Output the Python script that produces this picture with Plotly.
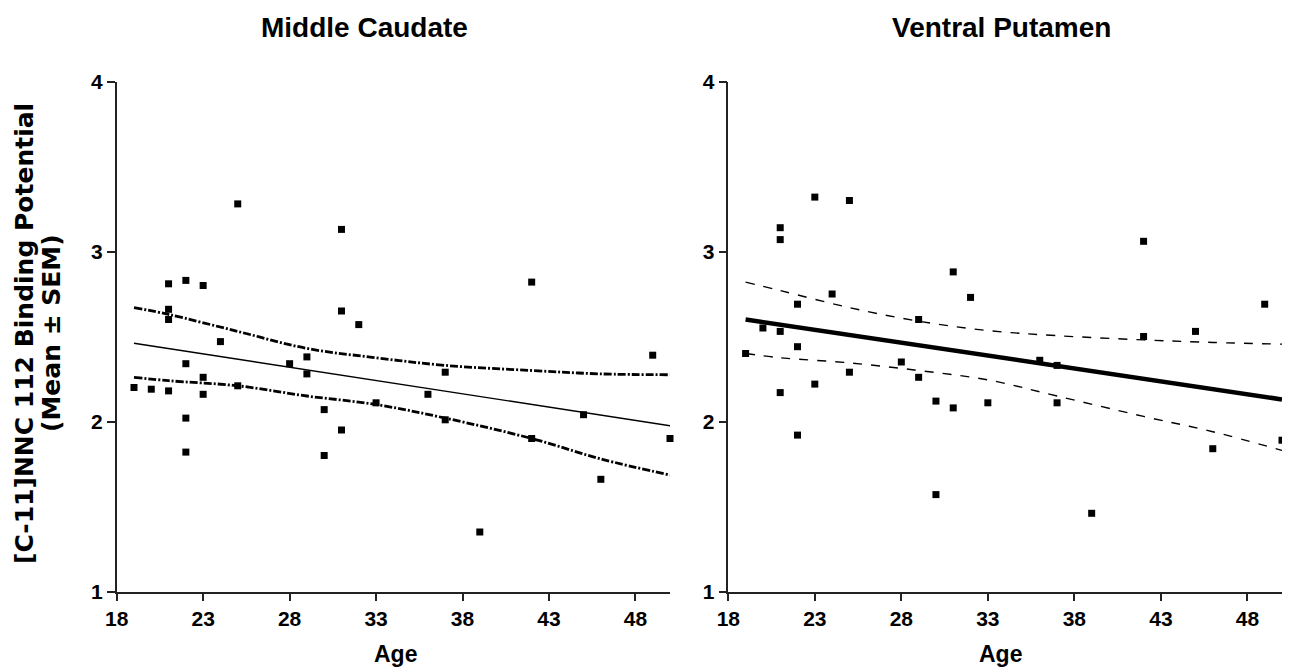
import plotly.graph_objects as go

# ---------------- data ----------------
mc_age = [19, 20, 21, 21, 21, 21, 22, 22, 22, 22, 23, 23, 23, 24, 25, 25,
          28, 29, 29, 30, 30, 31, 31, 31, 32, 33, 36, 37, 37, 39, 42, 42,
          45, 46, 49, 50]
mc_bp = [2.20, 2.19, 2.81, 2.66, 2.60, 2.18, 2.83, 2.34, 2.02, 1.82, 2.80, 2.26,
         2.16, 2.47, 3.28, 2.21, 2.34, 2.38, 2.28, 2.07, 1.80, 3.13, 2.65, 1.95,
         2.57, 2.11, 2.16, 2.29, 2.01, 1.35, 2.82, 1.90, 2.04, 1.66, 2.39, 1.90]

vp_age = [19, 20, 21, 21, 21, 21, 22, 22, 22, 23, 23, 24, 25, 25, 28, 29, 29,
          30, 30, 31, 31, 32, 33, 36, 37, 37, 39, 42, 42, 45, 46, 49, 50]
vp_bp = [2.40, 2.55, 3.14, 3.07, 2.53, 2.17, 2.69, 2.44, 1.92, 3.32, 2.22, 2.75,
         3.30, 2.29, 2.35, 2.60, 2.26, 2.12, 1.57, 2.88, 2.08, 2.73, 2.11, 2.36,
         2.33, 2.11, 1.46, 3.06, 2.50, 2.53, 1.84, 2.69, 1.89]

fit_age = [19, 50]
mc_fit = [2.46, 1.975]
vp_fit = [2.60, 2.13]

band_age = [19, 21, 25, 29, 33, 37, 42, 46, 50]
mc_upper = [2.67, 2.63, 2.53, 2.43, 2.375, 2.33, 2.30, 2.28, 2.275]
mc_lower = [2.26, 2.24, 2.21, 2.15, 2.10, 2.02, 1.90, 1.78, 1.685]
vp_upper = [2.82, 2.77, 2.67, 2.59, 2.535, 2.505, 2.48, 2.465, 2.455]
vp_lower = [2.40, 2.375, 2.345, 2.30, 2.245, 2.15, 2.03, 1.94, 1.83]

x_ticks = [18, 23, 28, 33, 38, 43, 48]
y_ticks = [1, 2, 3, 4]
titles = ["Middle Caudate", "Ventral Putamen"]
y_title_lines = ["[C-11]NNC 112 Binding Potential", "(Mean \u00b1 SEM)"]
x_title = "Age"

# ---------------- figure ----------------
# page body has an 8px margin; the figure is sized so it fits the window
OFF = 8
W, H = 1290 - OFF, 671 - OFF
FONT = "Liberation Sans"
WIDE = "DejaVu Sans"
fig = go.Figure()


def px(x):
    return (x - OFF) / W


def py(y):
    return 1 - (y - OFF) / H


marker = dict(symbol="square", size=7, color="black")

# left panel
fig.add_trace(go.Scatter(x=mc_age, y=mc_bp, mode="markers", marker=marker,
                         cliponaxis=False, xaxis="x", yaxis="y", showlegend=False))
fig.add_trace(go.Scatter(x=fit_age, y=mc_fit, mode="lines",
                         line=dict(color="black", width=1.4),
                         xaxis="x", yaxis="y", showlegend=False))
for band in (mc_upper, mc_lower):
    fig.add_trace(go.Scatter(x=band_age, y=band, mode="lines",
                             line=dict(color="black", width=2.8, shape="spline",
                                       dash="8px,2px,2px,2px"),
                             xaxis="x", yaxis="y", showlegend=False))

# right panel
fig.add_trace(go.Scatter(x=vp_age, y=vp_bp, mode="markers", marker=marker,
                         cliponaxis=False, xaxis="x2", yaxis="y2", showlegend=False))
fig.add_trace(go.Scatter(x=fit_age, y=vp_fit, mode="lines",
                         line=dict(color="black", width=4.5),
                         xaxis="x2", yaxis="y2", showlegend=False))
for band in (vp_upper, vp_lower):
    fig.add_trace(go.Scatter(x=band_age, y=band, mode="lines",
                             line=dict(color="black", width=1.4, shape="spline",
                                       dash="9px,9px"),
                             xaxis="x2", yaxis="y2", showlegend=False))

tickfont = dict(family=FONT, size=21, color="black", weight=700)
xcommon = dict(range=[18, 50], tickvals=x_ticks, ticks="outside", ticklen=8,
               tickwidth=1.5, tickcolor="#222", showline=True, linecolor="#222",
               linewidth=1.5, showgrid=False, zeroline=False, tickfont=tickfont,
               fixedrange=True, automargin=False)
ycommon = dict(range=[1, 4], tickvals=y_ticks, ticks="outside", ticklen=8,
               tickwidth=1.5, tickcolor="#222", showline=True, linecolor="#222",
               linewidth=1.5, showgrid=False, zeroline=False, tickfont=tickfont,
               fixedrange=True, automargin=False)

ydom = [py(591.5), py(81.5)]
fig.update_layout(
    width=W, height=H, autosize=False,
    margin=dict(l=0, r=0, t=0, b=0, pad=0),
    paper_bgcolor="white", plot_bgcolor="white",
    xaxis=dict(domain=[px(116.7), px(670)], anchor="y", **xcommon),
    yaxis=dict(domain=ydom, anchor="x", **ycommon),
    xaxis2=dict(domain=[px(728.3), px(1282)], anchor="y2", **xcommon),
    yaxis2=dict(domain=ydom, anchor="x2", **ycommon),
)

title_font = dict(family=FONT, size=28, color="black", weight=700)
label_font = dict(family=FONT, size=23, color="black", weight=700)
ytitle_font = dict(family=WIDE, size=25, color="black", weight=700)
ann = [
    dict(text=titles[0], x=px(364), y=py(27), xref="paper", yref="paper",
         showarrow=False, font=title_font, xanchor="center", yanchor="middle"),
    dict(text=titles[1], x=px(1001), y=py(27), xref="paper", yref="paper",
         showarrow=False, font=title_font, xanchor="center", yanchor="middle"),
    dict(text=x_title, x=px(395), y=py(654), xref="paper", yref="paper",
         showarrow=False, font=label_font, xanchor="center", yanchor="middle"),
    dict(text=x_title, x=px(1000), y=py(654), xref="paper", yref="paper",
         showarrow=False, font=label_font, xanchor="center", yanchor="middle"),
    dict(text=y_title_lines[0], x=px(24), y=py(334), xref="paper", yref="paper",
         showarrow=False, font=ytitle_font, borderpad=0,
         textangle=-90, xanchor="center", yanchor="middle"),
    dict(text=y_title_lines[1], x=px(51), y=py(333), xref="paper", yref="paper",
         showarrow=False, font=ytitle_font, borderpad=0,
         textangle=-90, xanchor="center", yanchor="middle"),
]
fig.update_layout(annotations=ann)

fig.write_html("out.html", config={"displayModeBar": False})
